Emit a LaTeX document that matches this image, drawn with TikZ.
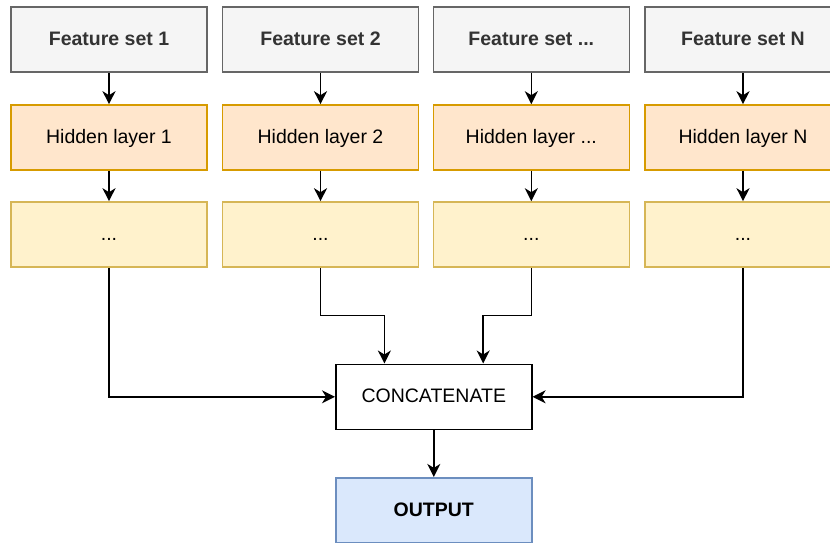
\documentclass[tikz,border=0pt]{standalone}
\usepackage{fontspec}
\setmainfont{Liberation Sans}
\usetikzlibrary{arrows.meta,calc}

\definecolor{featfill}{HTML}{F5F5F5}
\definecolor{featdraw}{HTML}{666666}
\definecolor{feattext}{HTML}{333333}
\definecolor{hidfill}{HTML}{FFE6CC}
\definecolor{hiddraw}{HTML}{D79B00}
\definecolor{dotfill}{HTML}{FFF2CC}
\definecolor{dotdraw}{HTML}{D6B656}
\definecolor{outfill}{HTML}{DAE8FC}
\definecolor{outdraw}{HTML}{6C8EBF}

\tikzset{
  box/.style={rectangle, minimum width=196pt, minimum height=65pt, inner sep=2pt,
    text height=14pt, text depth=2.4pt,
    line width=1.6pt, font=\fontsize{19.5}{23}\selectfont},
  featbox/.style={box, fill=featfill, draw=featdraw, text=feattext, font=\fontsize{19.5}{23}\selectfont\bfseries},
  hidbox/.style={box, fill=hidfill, draw=hiddraw},
  dotbox/.style={box, fill=dotfill, draw=dotdraw},
  catbox/.style={box, fill=white, draw=black},
  outbox/.style={box, fill=outfill, draw=outdraw, font=\fontsize{19.5}{23}\selectfont\bfseries},
  arr/.style={line width=1.6pt, -{Stealth[length=13pt,width=13pt,inset=4pt]}}
}

\begin{document}
\begin{tikzpicture}[x=1pt, y=-1pt]
\useasboundingbox (0,0) rectangle (830,543);

% input branches
\node[featbox] (f1) at (109,39.5) {Feature set 1};
\node[featbox] (f2) at (320.5,39.5) {Feature set 2};
\node[featbox] (f3) at (531.3,39.5) {Feature set ...};
\node[featbox] (f4) at (743,39.5) {Feature set N};

\node[hidbox] (h1) at (109,137.5) {Hidden layer 1};
\node[hidbox] (h2) at (320.5,137.5) {Hidden layer 2};
\node[hidbox] (h3) at (531.3,137.5) {Hidden layer ...};
\node[hidbox] (h4) at (743,137.5) {Hidden layer N};

\node[dotbox] (d1) at (109,234.5) {...};
\node[dotbox] (d2) at (320.5,234.5) {...};
\node[dotbox] (d3) at (531.3,234.5) {...};
\node[dotbox] (d4) at (743,234.5) {...};

% merge and output
\node[catbox] (cat) at (433.8,396.8) {CONCATENATE};
\node[outbox] (out) at (433.8,510.2) {OUTPUT};

\coordinate (in2) at ($(cat.north west)!0.25!(cat.north east)$);
\coordinate (in3) at ($(cat.north west)!0.75!(cat.north east)$);

\foreach \i in {1,...,4} {
  \draw[arr] (f\i) -- (h\i);
  \draw[arr] (h\i) -- (d\i);
}

\draw[arr] (d1.south) |- (cat.west);
\draw[arr] (d4.south) |- (cat.east);
\draw[arr] (d2.south) |- ($(d2.south)!0.5!(in2)$) -| (in2);
\draw[arr] (d3.south) |- ($(d3.south)!0.5!(in3)$) -| (in3);
\draw[arr] (cat) -- (out);
\end{tikzpicture}
\end{document}
